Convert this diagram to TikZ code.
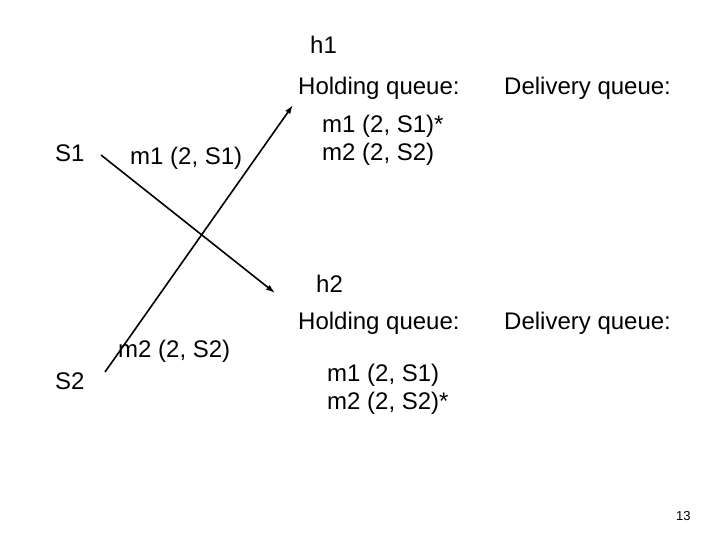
\documentclass[tikz,border=0pt]{standalone}
\usepackage{fontspec}
\usetikzlibrary{arrows.meta}
\setmainfont{Liberation Sans}
\begin{document}
\begin{tikzpicture}[x=1pt,y=-1pt,
  lbl/.style={anchor=west,inner sep=0pt,font=\fontsize{24}{28}\selectfont},
  msg/.style={line width=1.6pt,-{Latex[length=9pt,width=6pt]}}]
\useasboundingbox (0,0) rectangle (720,540);
\node[lbl] (h1) at (310,45) {h1};
\node[lbl] (hq1) at (298,88) {Holding queue:};
\node[lbl] (dq1) at (504,88) {Delivery queue:};
\node[lbl] (s1) at (55,153) {S1};
\node[lbl] (m1a) at (130,158) {m1 (2, S1)};
\node[lbl] (m1h1) at (322,126) {m1 (2, S1)*};
\node[lbl] (m2h1) at (322,154) {m2 (2, S2)};
\node[lbl] (h2) at (316,284) {h2};
\node[lbl] (hq2) at (298,323) {Holding queue:};
\node[lbl] (dq2) at (504,323) {Delivery queue:};
\node[lbl] (m2a) at (118,351) {m2 (2, S2)};
\node[lbl] (s2) at (55,381) {S2};
\node[lbl] (m1h2) at (327,375) {m1 (2, S1)};
\node[lbl] (m2h2) at (327,403) {m2 (2, S2)*};
\node[anchor=west,inner sep=0pt,font=\fontsize{13}{15}\selectfont] (pg) at (676,516) {13};
\coordinate (p1s) at (101,155);
\coordinate (p1e) at (275,293);
\coordinate (p2s) at (105,372);
\coordinate (p2e) at (293,105);
\draw[msg] (p1s) -- (p1e);
\draw[msg] (p2s) -- (p2e);
\end{tikzpicture}
\end{document}
